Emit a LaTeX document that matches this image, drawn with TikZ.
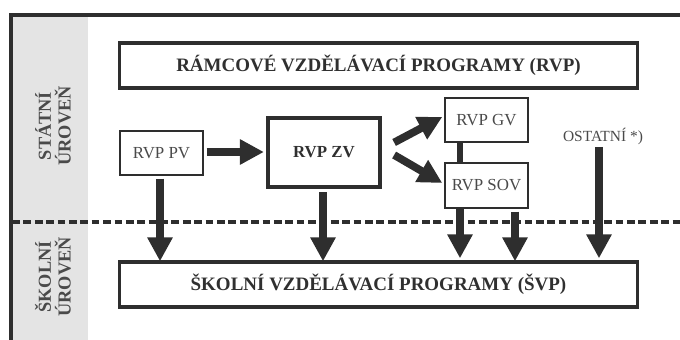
\documentclass[tikz,border=0pt]{standalone}
\usepackage{fontspec}
\setmainfont{Liberation Serif}
\usetikzlibrary{arrows.meta}

\definecolor{linegray}{HTML}{2E2E2E}
\definecolor{bandgray}{HTML}{E4E4E4}
\definecolor{textgray}{HTML}{4A4A4A}
\definecolor{darktext}{HTML}{303030}

\begin{document}
\begin{tikzpicture}[x=0.025cm, y=-0.025cm,
  smallbox/.style={draw=linegray, fill=white, line width=1pt, minimum width=2.075cm,
    minimum height=1.1cm, inner sep=0pt, font=\fontsize{12}{14}\selectfont, text=textgray},
  widebox/.style={draw=linegray, fill=white, line width=2.2pt, minimum width=12.925cm,
    minimum height=1.125cm, inner sep=0pt, font=\fontsize{13.5}{16}\selectfont\bfseries, text=darktext},
  fatarrow/.style={draw=linegray, line width=5.5pt, -{Triangle[length=17pt,width=17pt]}},
  sidelabel/.style={rotate=90, align=center, font=\fontsize{13}{14}\selectfont\bfseries, text=textgray}]
  \useasboundingbox (0,0) rectangle (680,340);

  % pozadi: sedy pruh vlevo a ramecek
  \fill[bandgray] (12,15) rectangle (88,340);
  \draw[linegray, line width=2.2pt] (11,340) -- (11,15) -- (680,15);

  % hranice mezi statni a skolni urovni
  \draw[linegray, line width=2.6pt, dash pattern=on 5.5pt off 2.6pt] (12,222) -- (680,222);

  % popisky urovni
  \node[sidelabel] (statni) at (53,126) {STÁTNÍ\\ÚROVEŇ};
  \node[sidelabel] (skolni) at (53,277) {ŠKOLNÍ\\ÚROVEŇ};

  % ramcove a skolni programy
  \node[widebox] (rvp) at (378.5,65.5) {RÁMCOVÉ VZDĚLÁVACÍ PROGRAMY (RVP)};
  \node[widebox] (svp) at (378.5,284.5) {ŠKOLNÍ VZDĚLÁVACÍ PROGRAMY (ŠVP)};

  % jednotlive RVP
  \node[smallbox] (pv) at (161.5,153) {RVP PV};
  \node[smallbox, line width=3pt, minimum width=2.8cm, minimum height=1.725cm,
    font=\fontsize{12}{14}\selectfont\bfseries, text=darktext] (zv) at (324,152.5) {RVP ZV};
  \node[smallbox] (gv) at (486.5,120) {RVP GV};
  \node[smallbox, minimum height=1.125cm] (sov) at (486.5,185.5) {RVP SOV};
  \node[font=\fontsize{11}{13}\selectfont, text=textgray, inner sep=1pt] (ostatni) at (603,137) {OSTATNÍ *)};

  % spojka GV -- SOV
  \draw[linegray, line width=4.5pt] ([shift={(-26.5,0)}]gv.south) -- ([shift={(-26.5,0)}]sov.north);

  % sipky mezi RVP
  \draw[fatarrow] ([shift={(3,-1)}]pv.east) -- ([shift={(-2,-0.5)}]zv.west);
  \draw[fatarrow] ([shift={(12,-10)}]zv.east) -- ([shift={(-2,-3)}]gv.west);
  \draw[fatarrow] ([shift={(12,2.5)}]zv.east) -- ([shift={(-2,-2.5)}]sov.west);

  % sipky dolu do SVP
  \draw[fatarrow, shorten >=1.5pt] ([shift={(-1.5,3)}]pv.south) -- ([shift={(-1.5,3)}]pv.south |- svp.north);
  \draw[fatarrow, shorten >=1.5pt] ([shift={(-1,3)}]zv.south) -- ([shift={(-1,3)}]zv.south |- svp.north);
  \draw[fatarrow, shorten >=1.5pt] ([shift={(-26.5,0)}]sov.south) -- ([shift={(-26.5,0)}]sov.south |- svp.north);
  \draw[fatarrow, shorten >=1.5pt] ([shift={(28.5,3)}]sov.south) -- ([shift={(28.5,3)}]sov.south |- svp.north);
  \draw[fatarrow, shorten >=1.5pt] ([shift={(-4,0)}]ostatni.south) -- ([shift={(-4,0)}]ostatni.south |- svp.north);
\end{tikzpicture}
\end{document}
